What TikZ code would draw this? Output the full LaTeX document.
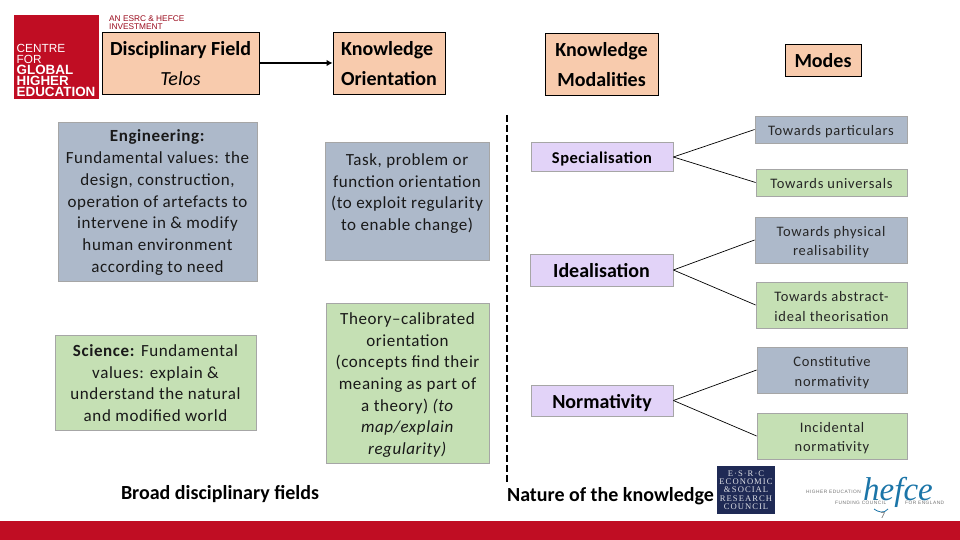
\documentclass[tikz,border=0pt]{standalone}
\usepackage{fontspec}
\usetikzlibrary{arrows.meta}
\setmainfont{Carlito}
\newfontfamily\logofont{Liberation Sans}
\newfontfamily\seriffont{Liberation Serif}
\definecolor{peach}{HTML}{F8CBAD}
\definecolor{slate}{HTML}{ADB9CA}
\definecolor{lilac}{HTML}{E2D3F8}
\definecolor{sage}{HTML}{C5E0B4}
\definecolor{crimson}{HTML}{C00D23}
\definecolor{navy}{HTML}{1F2A55}
\definecolor{hefceblue}{HTML}{1B75A8}
\newcommand{\toppad}[1]{\mbox{}\\[#1]}
\tikzset{
  bx/.style={draw=#1,align=center,inner sep=0pt,anchor=center,line width=0.8pt},
  sz/.style 2 args={minimum width=#1pt,minimum height=#2pt},
  ht/.style 2 args={text height=#1pt,text depth=#2pt},
  headbox/.style={bx=black,fill=peach,font=\fontsize{20}{30}\selectfont\bfseries},
  slatebox/.style={bx=black!35,fill=slate},
  sagebox/.style={bx=black!35,fill=sage},
  lilacbox/.style={bx=black!35,fill=lilac,font=\bfseries},
  body/.style={font=\fontsize{17}{21.7}\selectfont\addfontfeature{LetterSpace=3.5},text=black!90},
  small/.style={font=\fontsize{14.5}{19.5}\selectfont\addfontfeature{LetterSpace=5},text=black!85},
  plain/.style={inner sep=0pt,font=\fontsize{20}{24}\selectfont\bfseries},
  conn/.style={draw=black,line width=0.7pt},
}
\begin{document}
\begin{tikzpicture}[x=1pt,y=-1pt]
\useasboundingbox (0,0) rectangle (960,540);
\fill[white] (0,0) rectangle (960,540);
\fill[crimson] (0,521) rectangle (960,540);
% CGHE logo
\fill[crimson] (14,15) rectangle (99,99);
\node[anchor=north west,inner sep=0pt,text=white,align=left,font=\logofont\fontsize{11.8}{11}\selectfont] (cghe) at (16.5,44) {CENTRE\\FOR\\\textbf{\fontsize{13.4}{11}\selectfont GLOBAL}\\\textbf{\fontsize{13.4}{11}\selectfont HIGHER}\\\textbf{\fontsize{13.4}{11}\selectfont EDUCATION}};
\node[anchor=north west,inner sep=0pt,text=crimson!80!black,align=left,font=\logofont\fontsize{8.3}{8}\selectfont] (invest) at (109,15.5) {AN ESRC \& HEFCE\\INVESTMENT};
% Header boxes
\node[headbox,sz={157}{62}] (field) at (180.5,63) {\toppad{-14pt}Disciplinary Field\\\textit{\mdseries Telos}};
\node[headbox,sz={112}{62},align=left] (orient) at (389,63) {\toppad{-14.4pt}Knowledge\\Orientation};
\node[headbox,sz={113}{62}] (modal) at (601.5,64) {\toppad{-14.4pt}Knowledge\\Modalities};
\node[headbox,sz={76}{32},ht={14.6}{0},font=\fontsize{20}{24}\selectfont\bfseries] (modes) at (823,60) {Modes};
\draw[line width=2pt,-{Latex[length=6pt,width=6.5pt]}] (field.east) -- (orient.west);
% Left
\node[slatebox,body,sz={199}{159}] (eng) at (157.5,201.5) {\toppad{-7.6pt}\textbf{Engineering:}\\Fundamental values: the\\design, construction,\\operation of artefacts to\\intervene in \& modify\\human environment\\according to need};
\node[sagebox,sz={201}{95},body] (sci) at (155.5,382.5) {\toppad{-8.6pt}\textbf{Science:} Fundamental\\values: explain \&\\understand the natural\\and modified world};
\node[slatebox,body,sz={164}{118}] (task) at (407,201) {Task, problem or\\function orientation\\(to exploit regularity\\to enable change)\\[-4pt]\mbox{}};
\node[sagebox,body,sz={163}{160}] (theory) at (407.5,383) {\toppad{-5.6pt}Theory–calibrated\\orientation\\(concepts find their\\meaning as part of\\a theory) \textit{(to}\\\textit{map/explain}\\\textit{regularity)}};
\node[plain] (broad) at (220,494) {Broad disciplinary fields};
\node[plain] (nature) at (610.5,496.5) {Nature of the knowledge};
% Divider
\coordinate (divtop) at (507,115);
\coordinate (divbot) at (507,485);
\draw[line width=1.6pt,dash pattern=on 7pt off 3pt] (divtop) -- (divbot);
% Middle
\node[lilacbox,sz={142}{29.5},ht={16}{3.1},font=\fontsize{16.5}{18}\selectfont\bfseries\addfontfeature{LetterSpace=3}] (spec) at (602,157) {Specialisation};
\node[lilacbox,sz={143}{32},ht={14.6}{0},font=\fontsize{20}{24}\selectfont\bfseries] (ideal) at (601.5,270) {Idealisation};
\node[lilacbox,sz={142}{31},ht={20}{3.8},font=\fontsize{20}{24}\selectfont\bfseries] (norm) at (602,400.5) {Normativity};
% Right
\node[slatebox,small,sz={152}{27},ht={14.6}{2.8}] (part) at (831,129.5) {Towards particulars};
\node[sagebox,small,sz={151}{27},ht={12.6}{0}] (univ) at (831.5,182.5) {Towards universals};
\node[slatebox,small,sz={152}{46}] (phys) at (831,240) {\toppad{-5.5pt}Towards physical\\realisability};
\node[sagebox,small,sz={151}{46}] (abst) at (831.5,305) {\toppad{-6.5pt}Towards abstract-\\ideal theorisation};
\node[slatebox,small,sz={150}{46}] (cons) at (832,370) {\toppad{-4.5pt}Constitutive\\normativity};
\node[sagebox,small,sz={150}{46}] (inci) at (832,436) {\toppad{-5pt}Incidental\\normativity};
% Connectors
\draw[conn] (spec.east) -- (part.west);
\draw[conn] (spec.east) -- (univ.west);
\draw[conn] (ideal.east) -- (phys.west);
\draw[conn] (ideal.east) -- (abst.west);
\draw[conn] (norm.east) -- (cons.west);
\draw[conn] (norm.east) -- (inci.west);
% ESRC logo
\fill[navy] (717,466) rectangle (775,514);
\node[inner sep=0pt,text=white!85!navy,align=center,font=\seriffont\fontsize{8.6}{8.2}\selectfont\addfontfeature{LetterSpace=12}] (esrc) at (746,490) {E·S·R·C\\ECONOMIC\\\&\,SOCIAL\\RESEARCH\\COUNCIL};
% HEFCE logo
\node[inner sep=0pt,text=hefceblue,font=\seriffont\itshape\fontsize{33}{33}\selectfont,text depth=0pt] (hefce) at (898,489) {hefce};
\draw[hefceblue,line width=0.8pt] (874,509) .. controls (878,512) and (884,514) .. (888,509);
\node[anchor=west,inner sep=0pt,text=black!55,font=\logofont\fontsize{4.8}{5}\selectfont\addfontfeature{LetterSpace=10}] (he) at (806,492) {HIGHER EDUCATION};
\node[anchor=west,inner sep=0pt,text=black!55,font=\logofont\fontsize{4.8}{5}\selectfont\addfontfeature{LetterSpace=10}] (fc) at (835,502.5) {FUNDING COUNCIL};
\node[anchor=west,inner sep=0pt,text=black!55,font=\logofont\fontsize{4.8}{5}\selectfont\addfontfeature{LetterSpace=10}] (fe) at (905,502.5) {FOR ENGLAND};
\node[inner sep=0pt,text=black!60,font=\fontsize{9}{10}\selectfont] (pg) at (883,516) {7};
\end{tikzpicture}
\end{document}
